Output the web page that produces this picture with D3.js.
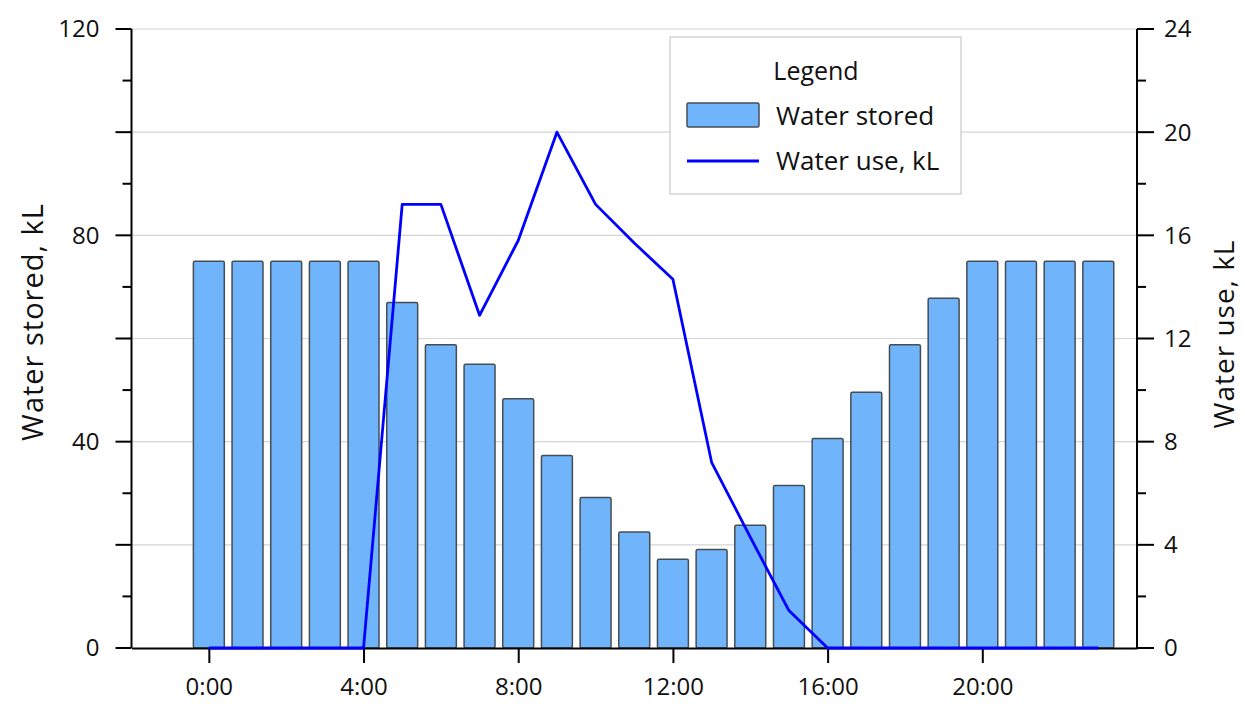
<!DOCTYPE html>
<html>
<head>
<meta charset="utf-8">
<script src="https://cdn.jsdelivr.net/npm/d3@7"></script>
<style>
  body { margin: 0; background: #fff; }
  svg text { font-family: "Open Sans", "Noto Sans", sans-serif; fill: #111; }
</style>
</head>
<body>
<svg id="chart" width="1245" height="708"></svg>
<script>
// hours of the day (bar/line positions)
const hours = d3.range(0, 24);
// water stored, kL (left axis)
const stored = [75, 75, 75, 75, 75, 67, 58.8, 55, 48.3, 37.3, 29.2, 22.5,
                17.2, 19.1, 23.8, 31.5, 40.6, 49.6, 58.8, 67.8, 75, 75, 75, 75];
// water use, kL (right axis)
const use = [0, 0, 0, 0, 0, 17.2, 17.2, 12.9, 15.8, 20, 17.2, 15.7,
             14.3, 7.2, 4.3, 1.45, 0, 0, 0, 0, 0, 0, 0, 0];
const xTicks = [0, 4, 8, 12, 16, 20];
const xTickLabels = ["0:00", "4:00", "8:00", "12:00", "16:00", "20:00"];

const svg = d3.select("#chart");

const x = d3.scaleLinear().domain([-2, 24]).range([131.5, 1137]);
const yL = d3.scaleLinear().domain([0, 120]).range([648, 29]);
const yR = d3.scaleLinear().domain([0, 24]).range([648, 29]);

// gridlines
svg.append("g")
    .selectAll("line")
    .data(d3.range(20, 121, 20))
    .enter().append("line")
    .attr("x1", x(-2)).attr("x2", x(24))
    .attr("y1", d => yL(d)).attr("y2", d => yL(d))
    .attr("stroke", "#d4d4d4")
    .attr("stroke-width", 1.2);

// bars
const bw = x(0.4) - x(-0.4);
svg.append("g")
    .selectAll("rect")
    .data(hours)
    .enter().append("rect")
    .attr("x", d => x(d) - bw / 2)
    .attr("y", d => yL(stored[d]))
    .attr("width", bw)
    .attr("height", d => yL(0) - yL(stored[d]))
    .attr("rx", 1.5)
    .attr("fill", "#70b5fb")
    .attr("stroke", "#454d55")
    .attr("stroke-width", 1.5);

// bottom axis
const xAxis = d3.axisBottom(x)
    .tickValues(xTicks)
    .tickFormat((d, i) => xTickLabels[i])
    .tickSize(15)
    .tickSizeOuter(0)
    .tickPadding(15);
const gx = svg.append("g")
    .attr("transform", `translate(0,${yL(0)})`)
    .call(xAxis);
gx.select(".domain").attr("stroke", "#000").attr("stroke-width", 2);
gx.selectAll(".tick line").attr("stroke", "#000").attr("stroke-width", 2);
gx.selectAll("text").attr("font-size", 24).attr("fill", "#111")
    .style("font-family", "'Open Sans', sans-serif");

// water use line
const line = d3.line()
    .x(d => x(d))
    .y(d => yR(use[d]));
svg.append("path")
    .datum(hours)
    .attr("d", line)
    .attr("fill", "none")
    .attr("stroke", "#0000ff")
    .attr("stroke-width", 2.8)
    .attr("stroke-linejoin", "round");

// left axis: major + minor ticks
const gl = svg.append("g").attr("transform", `translate(${x(-2)},0)`);
gl.append("line")
    .attr("y1", yL(0)).attr("y2", yL(120))
    .attr("stroke", "#000").attr("stroke-width", 2);
gl.selectAll(".minor")
    .data(d3.range(0, 121, 10))
    .enter().append("line")
    .attr("x1", d => d % 20 === 0 ? -16 : -9).attr("x2", 0)
    .attr("y1", d => yL(d)).attr("y2", d => yL(d))
    .attr("stroke", "#000").attr("stroke-width", 2);
gl.selectAll("text")
    .data([0, 40, 80, 120])
    .enter().append("text")
    .attr("x", -32)
    .attr("y", d => yL(d))
    .attr("dy", "0.35em")
    .attr("text-anchor", "end")
    .attr("font-size", 24)
    .text(d => d);

// right axis
const gr = svg.append("g").attr("transform", `translate(${x(24)},0)`);
gr.append("line")
    .attr("y1", yR(0)).attr("y2", yR(24))
    .attr("stroke", "#000").attr("stroke-width", 2);
gr.selectAll(".tk")
    .data(d3.range(0, 25, 2))
    .enter().append("line")
    .attr("x1", 0).attr("x2", d => d % 4 === 0 ? 17 : 9)
    .attr("y1", d => yR(d)).attr("y2", d => yR(d))
    .attr("stroke", "#000").attr("stroke-width", 2);
gr.selectAll("text")
    .data(d3.range(0, 25, 4))
    .enter().append("text")
    .attr("x", 27)
    .attr("y", d => yR(d))
    .attr("dy", "0.35em")
    .attr("font-size", 24)
    .text(d => d);

// axis titles
svg.append("text")
    .attr("transform", "translate(33,322) rotate(-90)")
    .attr("text-anchor", "middle")
    .attr("dy", "0.35em")
    .attr("font-size", 29)
    .attr("letter-spacing", 1)
    .text("Water stored, kL");
svg.append("text")
    .attr("transform", "translate(1224,334) rotate(-90)")
    .attr("text-anchor", "middle")
    .attr("dy", "0.35em")
    .attr("font-size", 28)
    .attr("letter-spacing", 1)
    .text("Water use, kL");

// legend
const lg = svg.append("g").attr("transform", "translate(670,37)");
lg.append("rect")
    .attr("width", 291).attr("height", 157)
    .attr("fill", "#fff")
    .attr("stroke", "#c8c8c8").attr("stroke-width", 1.2);
lg.append("text")
    .attr("x", 146).attr("y", 34)
    .attr("dy", "0.35em")
    .attr("text-anchor", "middle")
    .attr("font-size", 25)
    .text("Legend");
lg.append("rect")
    .attr("x", 17).attr("y", 66)
    .attr("width", 72).attr("height", 24)
    .attr("rx", 1.5)
    .attr("fill", "#70b5fb")
    .attr("stroke", "#454d55").attr("stroke-width", 1.5);
lg.append("text")
    .attr("x", 106).attr("y", 79)
    .attr("dy", "0.35em")
    .attr("font-size", 26)
    .text("Water stored");
lg.append("line")
    .attr("x1", 17).attr("x2", 89)
    .attr("y1", 124).attr("y2", 124)
    .attr("stroke", "#0000ff").attr("stroke-width", 2.8);
lg.append("text")
    .attr("x", 106).attr("y", 124)
    .attr("dy", "0.35em")
    .attr("font-size", 26)
    .text("Water use, kL");
</script>
</body>
</html>
